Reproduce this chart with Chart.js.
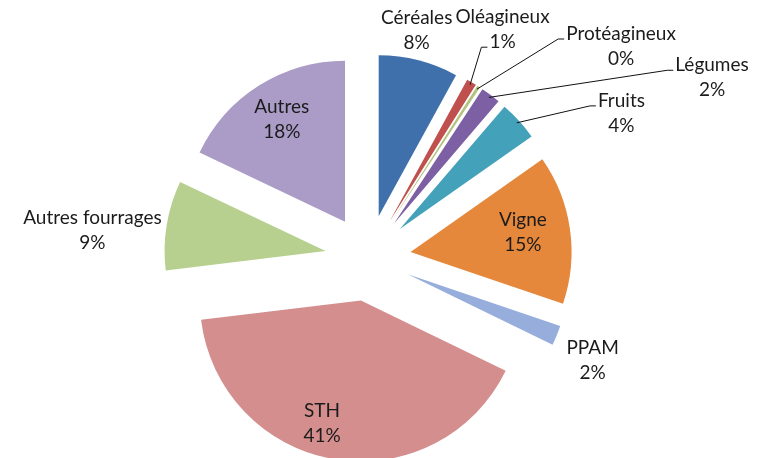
<!DOCTYPE html>
<html lang="fr">
<head>
  <meta charset="UTF-8" />
  <title>Répartition des surfaces</title>
  <script src="https://cdn.jsdelivr.net/npm/chart.js"></script>
  <style>
    html, body {
      margin: 0;
      padding: 0;
      background: #ffffff;
    }
    .chart-container {
      width: 762px;
      height: 458px;
    }
  </style>
</head>
<body>
  <div class="chart-container">
    <canvas id="pieChart"></canvas>
  </div>

  <script>
    // data
    const categories = ['Céréales', 'Oléagineux', 'Protéagineux', 'Légumes', 'Fruits',
                        'Vigne', 'PPAM', 'STH', 'Autres fourrages', 'Autres'];
    const shares = [8, 1, 0.3, 2, 4, 15, 2, 41, 9, 18];

    // style
    const colors = ['#4070AB', '#C0504D', '#B4C27F', '#7D5FA3', '#43A2B9',
                    '#E5883C', '#97AEDC', '#D48E8E', '#B7D08F', '#AA9CC6'];
    const SHIFT = 43;          // how far every slice is pulled out
    const FONT = '19px Lato';
    const LINE_H = 25;
    // label distance from the slice tip, and turn (deg) from the slice middle
    const labelDist = [190, 222, 289, 350, 250, 114, 204, 129, 234, 120];
    const labelTurn = [-2.8, 0, 19.8, 28.4, 14.7, -1.6, 2.7, 8, -4.2, 0.5];
    // which text line a leader line points to (null = no leader)
    const leaderTo = [null, 1, 0, 0, 0, null, null, null, null, null];

    // pull every slice out the same distance along its middle
    const explode = {
      id: 'explode',
      afterDatasetsUpdate(chart) {
        chart.getDatasetMeta(0).data.forEach(arc => {
          const mid = (arc.startAngle + arc.endAngle) / 2;
          arc.x += Math.cos(mid) * SHIFT;
          arc.y += Math.sin(mid) * SHIFT;
        });
      }
    };

    const sliceLabels = {
      id: 'sliceLabels',
      afterDatasetsDraw(chart) {
        const ctx = chart.ctx;
        const arcs = chart.getDatasetMeta(0).data;
        ctx.save();
        ctx.font = FONT;
        ctx.fillStyle = '#1b1b1b';
        ctx.strokeStyle = '#111111';
        ctx.lineWidth = 1;
        ctx.textAlign = 'center';
        ctx.textBaseline = 'middle';
        arcs.forEach((arc, i) => {
          const mid = (arc.startAngle + arc.endAngle) / 2;
          const a = mid + labelTurn[i] * Math.PI / 180;
          const lx = arc.x + Math.cos(a) * labelDist[i];
          const ly = arc.y + Math.sin(a) * labelDist[i];
          const lines = [categories[i], Math.round(shares[i]) + '%'];
          const ys = [ly - LINE_H / 2, ly + LINE_H / 2];
          ctx.fillText(lines[0], lx, ys[0]);
          ctx.fillText(lines[1], lx, ys[1]);

          if (leaderTo[i] !== null) {
            const t = leaderTo[i];
            const w = ctx.measureText(lines[t]).width;
            const ex = lx - w / 2 - 2;
            const ey = ys[t] + 5;
            const sx = arc.x + Math.cos(mid) * (arc.outerRadius - 3);
            const sy = arc.y + Math.sin(mid) * (arc.outerRadius - 3);
            ctx.beginPath();
            ctx.moveTo(sx, sy);
            ctx.lineTo(ex - 6, ey);
            ctx.lineTo(ex, ey);
            ctx.stroke();
          }
        });
        ctx.restore();
      }
    };

    new Chart(document.getElementById('pieChart'), {
      type: 'pie',
      data: {
        labels: categories,
        datasets: [{
          data: shares,
          backgroundColor: colors,
          borderWidth: 0,
          clip: false
        }]
      },
      options: {
        responsive: true,
        maintainAspectRatio: false,
        animation: false,
        events: [],
        radius: 161,
        layout: {
          padding: { top: 58, left: 0, right: 26, bottom: 0 }
        },
        plugins: {
          legend: { display: false },
          tooltip: { enabled: false }
        }
      },
      plugins: [explode, sliceLabels]
    });
  </script>
</body>
</html>
